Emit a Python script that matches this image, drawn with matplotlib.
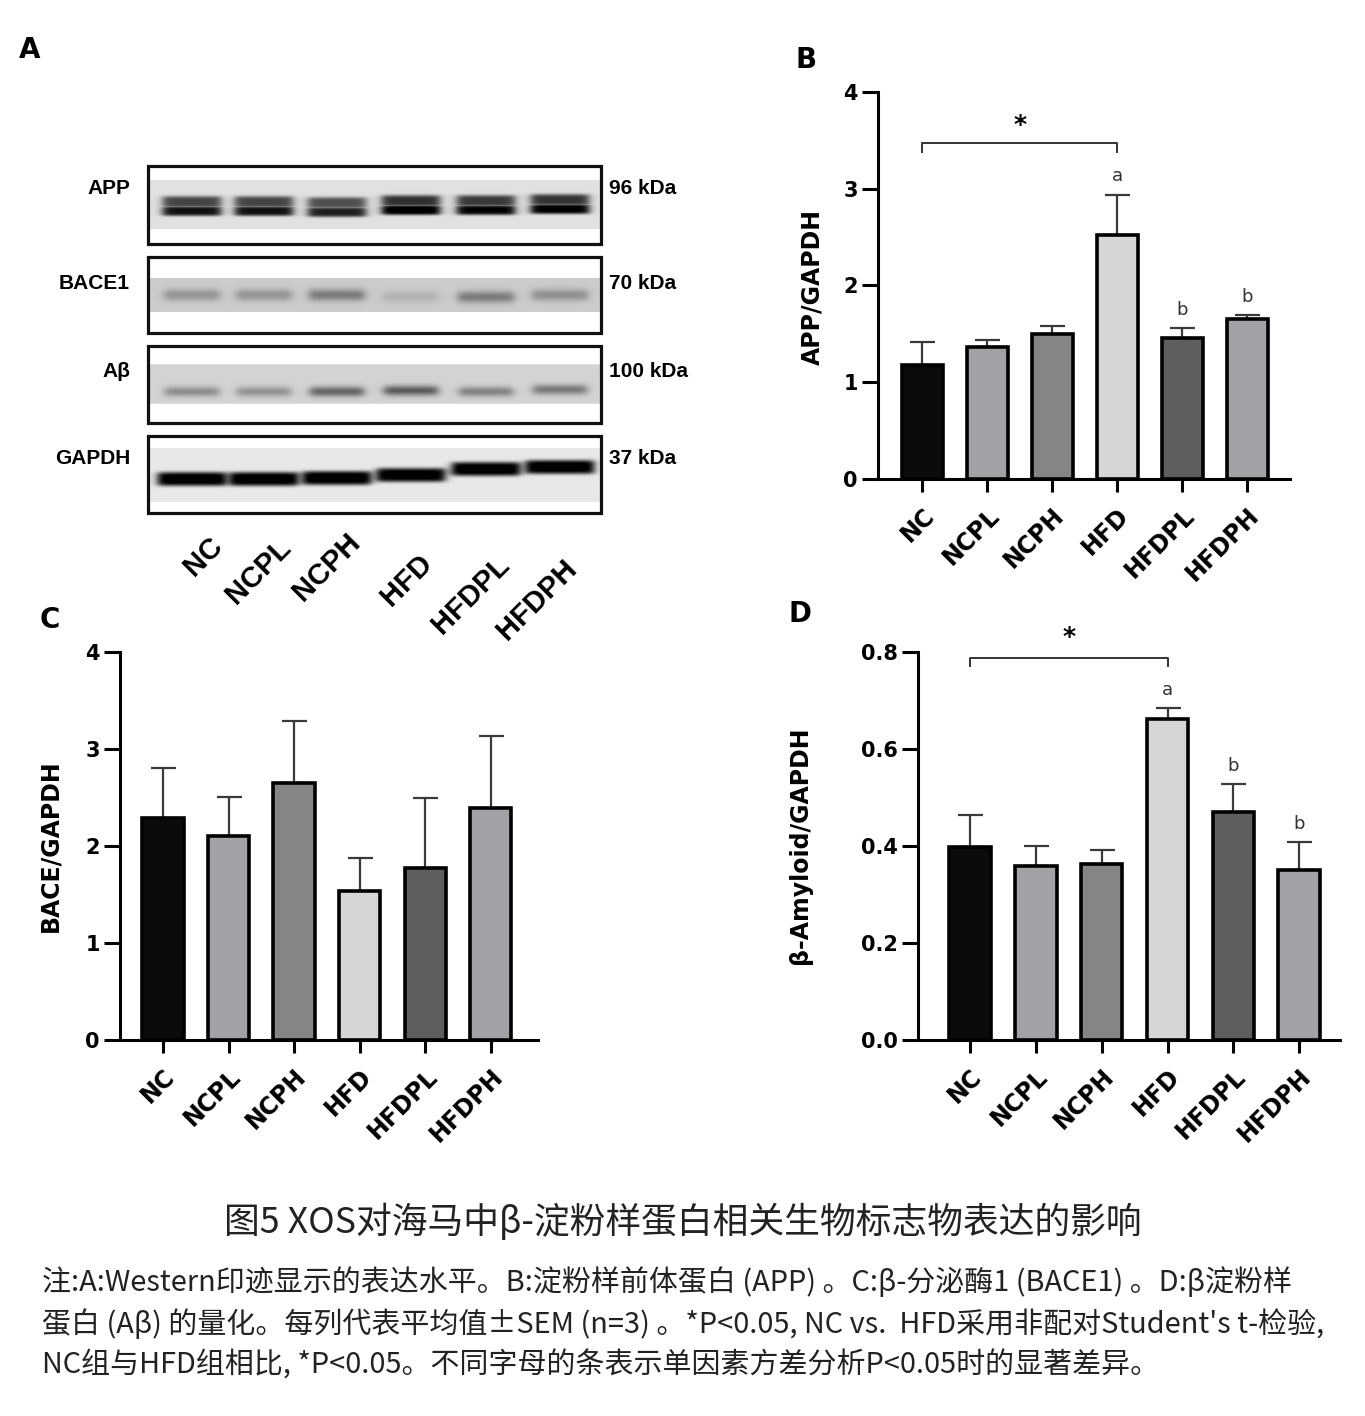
"""Fig 5: XOS effect on hippocampal beta-amyloid markers (blot + 3 bar panels)."""
import numpy as np
import matplotlib
matplotlib.use("Agg")
import matplotlib.pyplot as plt
from matplotlib.patches import Rectangle

W, H = 1365, 1416

groups = ["NC", "NCPL", "NCPH", "HFD", "HFDPL", "HFDPH"]
bar_colors = ["#0b0b0b", "#a2a2a6", "#858585", "#d6d6d6", "#5e5e5e", "#a2a2a6"]

# B: APP/GAPDH (mean, SEM)
app_mean = [1.175, 1.36, 1.50, 2.52, 1.46, 1.655]
app_sem = [0.24, 0.08, 0.08, 0.42, 0.10, 0.035]
app_letters = ["", "", "", "a", "b", "b"]

# C: BACE/GAPDH
bace_mean = [2.29, 2.10, 2.65, 1.54, 1.77, 2.39]
bace_sem = [0.51, 0.41, 0.64, 0.34, 0.72, 0.74]

# D: beta-amyloid/GAPDH
abeta_mean = [0.397, 0.359, 0.363, 0.662, 0.471, 0.351]
abeta_sem = [0.067, 0.041, 0.029, 0.023, 0.056, 0.058]
abeta_letters = ["", "", "", "a", "b", "b"]

# A: western blot, band darkness per lane (0 = none, 1 = black)
blot_rows = ["APP", "BACE1", "Aβ", "GAPDH"]
blot_kda = ["96 kDa", "70 kDa", "100 kDa", "37 kDa"]
app_band = [0.82, 0.82, 0.76, 0.93, 0.88, 0.91]
bace_band = [0.22, 0.22, 0.32, 0.10, 0.32, 0.24]
abeta_band = [0.28, 0.26, 0.44, 0.48, 0.32, 0.36]
gapdh_band = [0.97, 0.97, 0.97, 0.96, 0.97, 0.97]

fig = plt.figure(figsize=(W / 100, H / 100), dpi=100)
BOLD = dict(family="DejaVu Sans", fontweight="bold")
NARROW = dict(family=["Liberation Sans Narrow", "Liberation Sans"], fontweight="bold")
CJK = ["Noto Sans CJK SC", "DejaVu Sans"]


def fx(x):
    return x / W


def fy(y):
    return 1 - y / H


def px_axes(l, t, r, b):
    return fig.add_axes([l / W, 1 - b / H, (r - l) / W, (b - t) / H])


# ---------------- panel A: blot ----------------
axA = px_axes(0, 0, 700, 640)
axA.set_xlim(0, 700)
axA.set_ylim(640, 0)
axA.axis("off")

bx0, bx1 = 148, 601
lane_x = [192, 264, 337, 411, 486, 560]
# box top/bottom, strip top/bottom, background level
boxes = [(166, 244, 180, 229, 0.88), (257, 333, 278, 312, 0.80),
         (346, 423, 365, 404, 0.83), (436, 513, 448, 502, 0.91)]
# band components: (y center, half height, weight, exponent)
band_shapes = [[(202, 6, 0.75, 4), (211, 5, 1.0, 4)],
               [(295, 6, 1.0, 2)],
               [(392, 5, 1.0, 2)],
               [(479, 7, 1.0, 4)]]
lane_shift = [[0, 0, 1, -1, -1, -2], [0, 0, 0, 2, 2, 0],
              [0, 0, 0, -1, 0, -2], [0, 0, -1, -4, -10, -12]]
half_w = [29, 28, 27, 34]
bands = [app_band, bace_band, abeta_band, gapdh_band]

xs = np.arange(bx0, bx1) + 0.5
for r, (t, b, s0, s1, bg) in enumerate(boxes):
    ys = np.arange(t, b) + 0.5
    img = np.ones((len(ys), len(xs)))
    strip = (ys >= s0) & (ys <= s1)
    img[strip, :] = bg
    for k, cx in enumerate(lane_x):
        hprof = 1 / (1 + np.exp((np.abs(xs - cx) - half_w[r]) / 2.5))
        dark = np.zeros(len(ys))
        for yc, hh, wgt, ex in band_shapes[r]:
            dark = np.maximum(dark, wgt * np.exp(-np.abs((ys - yc - lane_shift[r][k]) / hh) ** ex))
        img -= bands[r][k] * np.outer(dark, hprof)
    img = np.clip(img, 0, 1)
    axA.imshow(img, cmap="gray", vmin=0, vmax=1, extent=(bx0, bx1, b, t),
               origin="upper", aspect="auto", interpolation="bilinear", zorder=1)
    axA.add_patch(Rectangle((bx0, t), bx1 - bx0, b - t, fill=False, lw=2.3,
                            ec="#111111", zorder=3))
    axA.text(bx0 - 18, (t + s0) / 2 + 16, blot_rows[r], ha="right", va="center",
             fontsize=15, **NARROW)
    axA.text(bx1 + 8, (t + s0) / 2 + 16, blot_kda[r], ha="left", va="center",
             fontsize=15, **NARROW)

lane_lab_xy = [(203, 556), (258, 571), (327, 567), (407, 580), (471, 595), (537, 600)]
for g, (x, y) in zip(groups, lane_lab_xy):
    axA.text(x, y, g, rotation=45, ha="center", va="center", fontsize=21, **NARROW)


# ---------------- bar panels ----------------
def bar_panel(rect, xlim, ylim, yticks, ytl, means, sems):
    ax = px_axes(*rect)
    x = np.arange(len(groups))
    ax.errorbar(x, means, yerr=[np.zeros(len(x)), sems], fmt="none",
                ecolor="#3a3a3a", elinewidth=1.6, capsize=9, capthick=1.6, zorder=2)
    ax.bar(x, means, 0.63, color=bar_colors, edgecolor="black", linewidth=2.6, zorder=3)
    ax.set_xlim(*xlim)
    ax.set_ylim(*ylim)
    for s in ["top", "right"]:
        ax.spines[s].set_visible(False)
    for s in ["left", "bottom"]:
        ax.spines[s].set_linewidth(2.2)
    ax.set_yticks(yticks)
    ax.set_yticklabels(ytl, fontsize=15, **BOLD)
    ax.set_xticks(x)
    ax.set_xticklabels(groups, fontsize=17, rotation=45, ha="right",
                       rotation_mode="anchor", **BOLD)
    ax.tick_params(axis="y", direction="out", length=11.5, width=2.2, pad=3)
    ax.tick_params(axis="x", direction="out", length=9.5, width=2.2, pad=8)
    ax.patch.set_alpha(0)
    return ax


def letters(ax, means, sems, labs):
    for i, (m, s, l) in enumerate(zip(means, sems, labs)):
        if l:
            ax.annotate(l, (i, m + s), xytext=(0, 13), textcoords="offset points",
                        ha="center", va="center", fontsize=13, color="#333333",
                        family="DejaVu Sans")


def bracket(ax, y, dy, ys):
    ax.plot([0, 0, 3, 3], [y - dy, y, y, y - dy], color="#333333", lw=1.4,
            clip_on=False, zorder=4)
    ax.text(1.5, ys, "*", ha="center", va="center", fontsize=18, **BOLD)


axB = bar_panel((878, 92, 1290, 479), (-0.68, 5.66), (0, 4), [0, 1, 2, 3, 4],
                ["0", "1", "2", "3", "4"], app_mean, app_sem)
letters(axB, app_mean, app_sem, app_letters)
bracket(axB, 3.47, 0.09, 3.66)

axC = bar_panel((120, 652, 538, 1040), (-0.655, 5.72), (0, 4), [0, 1, 2, 3, 4],
                ["0", "1", "2", "3", "4"], bace_mean, bace_sem)

axD = bar_panel((918, 652, 1340, 1040), (-0.79, 5.62), (0, 0.8),
                [0, 0.2, 0.4, 0.6, 0.8], ["0.0", "0.2", "0.4", "0.6", "0.8"],
                abeta_mean, abeta_sem)
letters(axD, abeta_mean, abeta_sem, abeta_letters)
bracket(axD, 0.788, 0.016, 0.83)

fig.text(fx(812), fy(287), "APP/GAPDH", rotation=90, ha="center", va="center",
         fontsize=17, **BOLD)
fig.text(fx(50), fy(846), "BACE/GAPDH", rotation=90, ha="center", va="center",
         fontsize=17, **BOLD)
fig.text(fx(800), fy(845), "β-Amyloid/GAPDH", rotation=90, ha="center", va="center",
         fontsize=17, **BOLD)

for lab, (x, y) in zip("ABCD", [(30, 50), (806, 60), (50, 620), (800, 614)]):
    fig.text(fx(x), fy(y), lab, ha="center", va="center", fontsize=20, **BOLD)

# ---------------- caption ----------------
title = fig.text(fx(683), fy(1222), "图5 XOS对海马中β-淀粉样蛋白相关生物标志物表达的影响",
                 ha="center", va="center", fontsize=24, family=CJK, color="#222222")
notes = ["注:A:Western印迹显示的表达水平。B:淀粉样前体蛋白 (APP) 。C:β-分泌酶1 (BACE1) 。D:β淀粉样",
         "蛋白 (Aβ) 的量化。每列代表平均值±SEM (n=3) 。*P<0.05, NC vs.  HFD采用非配对Student's t-检验,",
         "NC组与HFD组相比, *P<0.05。不同字母的条表示单因素方差分析P<0.05时的显著差异。"]
note_y = [1283, 1325, 1366]
note_txt = [fig.text(fx(42), fy(y), s, ha="left", va="center", fontsize=18,
                     family=CJK, color="#222222") for s, y in zip(notes, note_y)]

fig.canvas.draw()
rend = fig.canvas.get_renderer()
w_title = title.get_window_extent(rend).width
title.set_fontsize(24 * 920 / w_title)
w_max = max(t.get_window_extent(rend).width for t in note_txt[:2])
fs = 18 * 1282 / w_max
for t in note_txt:
    t.set_fontsize(fs)

fig.savefig("out.png", dpi=100)
